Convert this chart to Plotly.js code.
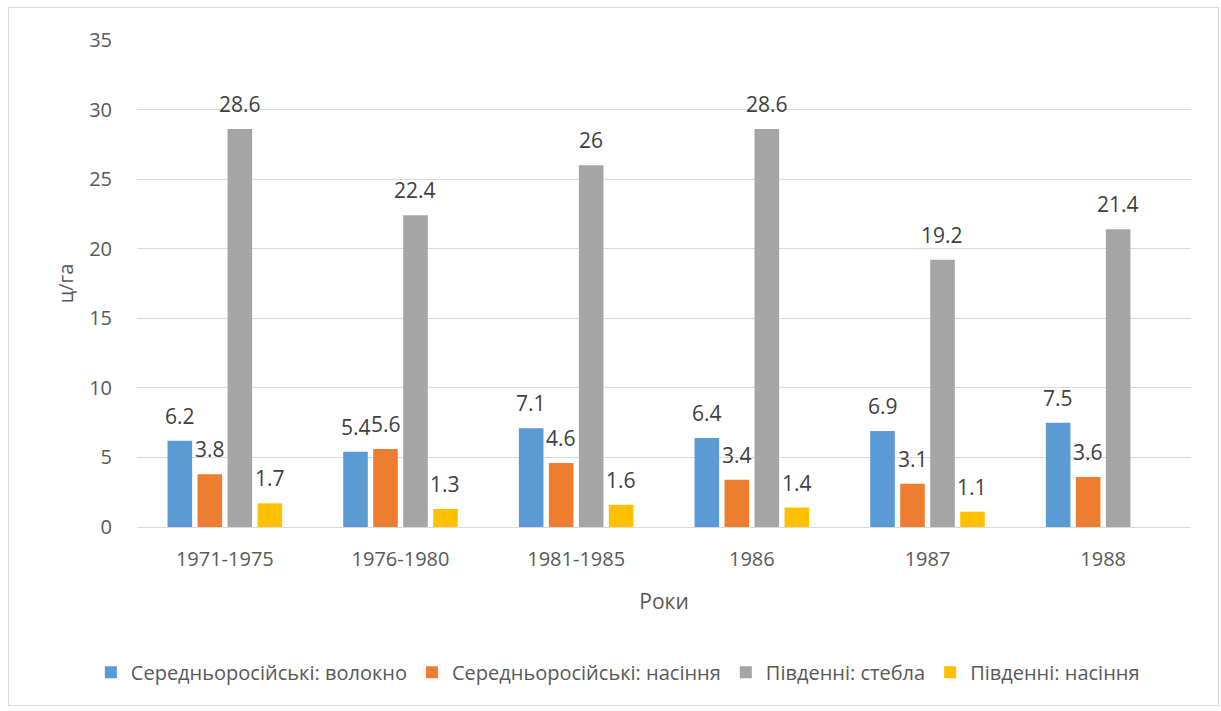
<!DOCTYPE html>
<html><head><meta charset="utf-8">
<script src="https://cdn.plot.ly/plotly-3.0.1.min.js"></script>
<style>
html,body{margin:0;padding:0;background:#fff;}
#chart{position:absolute;left:0;top:0;width:1221px;height:711px;}
#frame{position:absolute;left:8px;top:7px;width:1209px;height:697px;border:1px solid #d9d9d9;pointer-events:none;}
</style></head>
<body>
<div id="chart"></div><div id="frame"></div>
<script>
const categories = ["1971-1975","1976-1980","1981-1985","1986","1987","1988"];
const seriesNames = ["Середньоросійські: волокно","Середньоросійські: насіння","Південні: стебла","Південні: насіння"];
const fibreMid = [6.2,5.4,7.1,6.4,6.9,7.5];
const seedMid = [3.8,5.6,4.6,3.4,3.1,3.6];
const stemSouth = [28.6,22.4,26,28.6,19.2,21.4];
const seedSouth = [1.7,1.3,1.6,1.4,1.1,null];
const colors = ["#5b9bd5","#ed7d31","#a5a5a5","#ffc000"];
const allSeries = [fibreMid, seedMid, stemSouth, seedSouth];
const fontFam = "Open Sans, DejaVu Sans, sans-serif";

const W = 1221, H = 711;
const margin = {l:137, r:30, t:40, b:184, autoexpand:false};
const bargap = 0.317;
const nSeries = allSeries.length;
const catWidthPx = (W - margin.l - margin.r) / categories.length;
const slotPx = catWidthPx * (1 - bargap) / nSeries;

const traces = allSeries.map((vals,i)=>({
  type:'bar', name:seriesNames[i], x:categories, y:vals,
  marker:{color:colors[i]}, hoverinfo:'none'
}));

const annotations = [];
allSeries.forEach((vals,i)=>{
  vals.forEach((v,j)=>{
    if (v === null) return;
    annotations.push({
      x:j, y:v, xref:'x', yref:'y', text:String(v), showarrow:false,
      xanchor:'center', yanchor:'bottom', xshift:(i - (nSeries-1)/2) * slotPx, yshift:9,
      font:{family:fontFam, size:21, color:'#404040'}
    });
  });
});

const layout = {
  width:W, height:H, margin:margin,
  paper_bgcolor:'rgba(0,0,0,0)', plot_bgcolor:'#fff',
  barmode:'group', bargap:bargap, bargroupgap:0.18,
  font:{family:fontFam,color:'#595959',size:20},
  xaxis:{type:'category', categoryorder:'array', categoryarray:categories,
    range:[-0.5, categories.length - 0.5], tickangle:0, automargin:false,
    title:{text:'Роки',font:{size:21,color:'#595959'},standoff:23},
    tickfont:{size:20,color:'#595959'}, ticklabelstandoff:14,
    showline:true, linecolor:'#d9d9d9', ticks:'', showgrid:false},
  yaxis:{title:{text:'ц/га',font:{size:20,color:'#595959'},standoff:10}, automargin:false,
    range:[0,35], dtick:5, tickfont:{size:20,color:'#595959'}, ticklabelstandoff:24,
    gridcolor:'#d9d9d9', zeroline:false, showline:false, ticks:''},
  legend:{orientation:'h', xref:'container', x:0.506, xanchor:'center', y:-0.298, yanchor:'middle',
    font:{size:20,color:'#595959'}, traceorder:'normal', itemwidth:30},
  annotations:annotations,
  showlegend:true
};
Plotly.newPlot('chart', traces, layout, {displayModeBar:false, staticPlot:true});
</script>
</body></html>
